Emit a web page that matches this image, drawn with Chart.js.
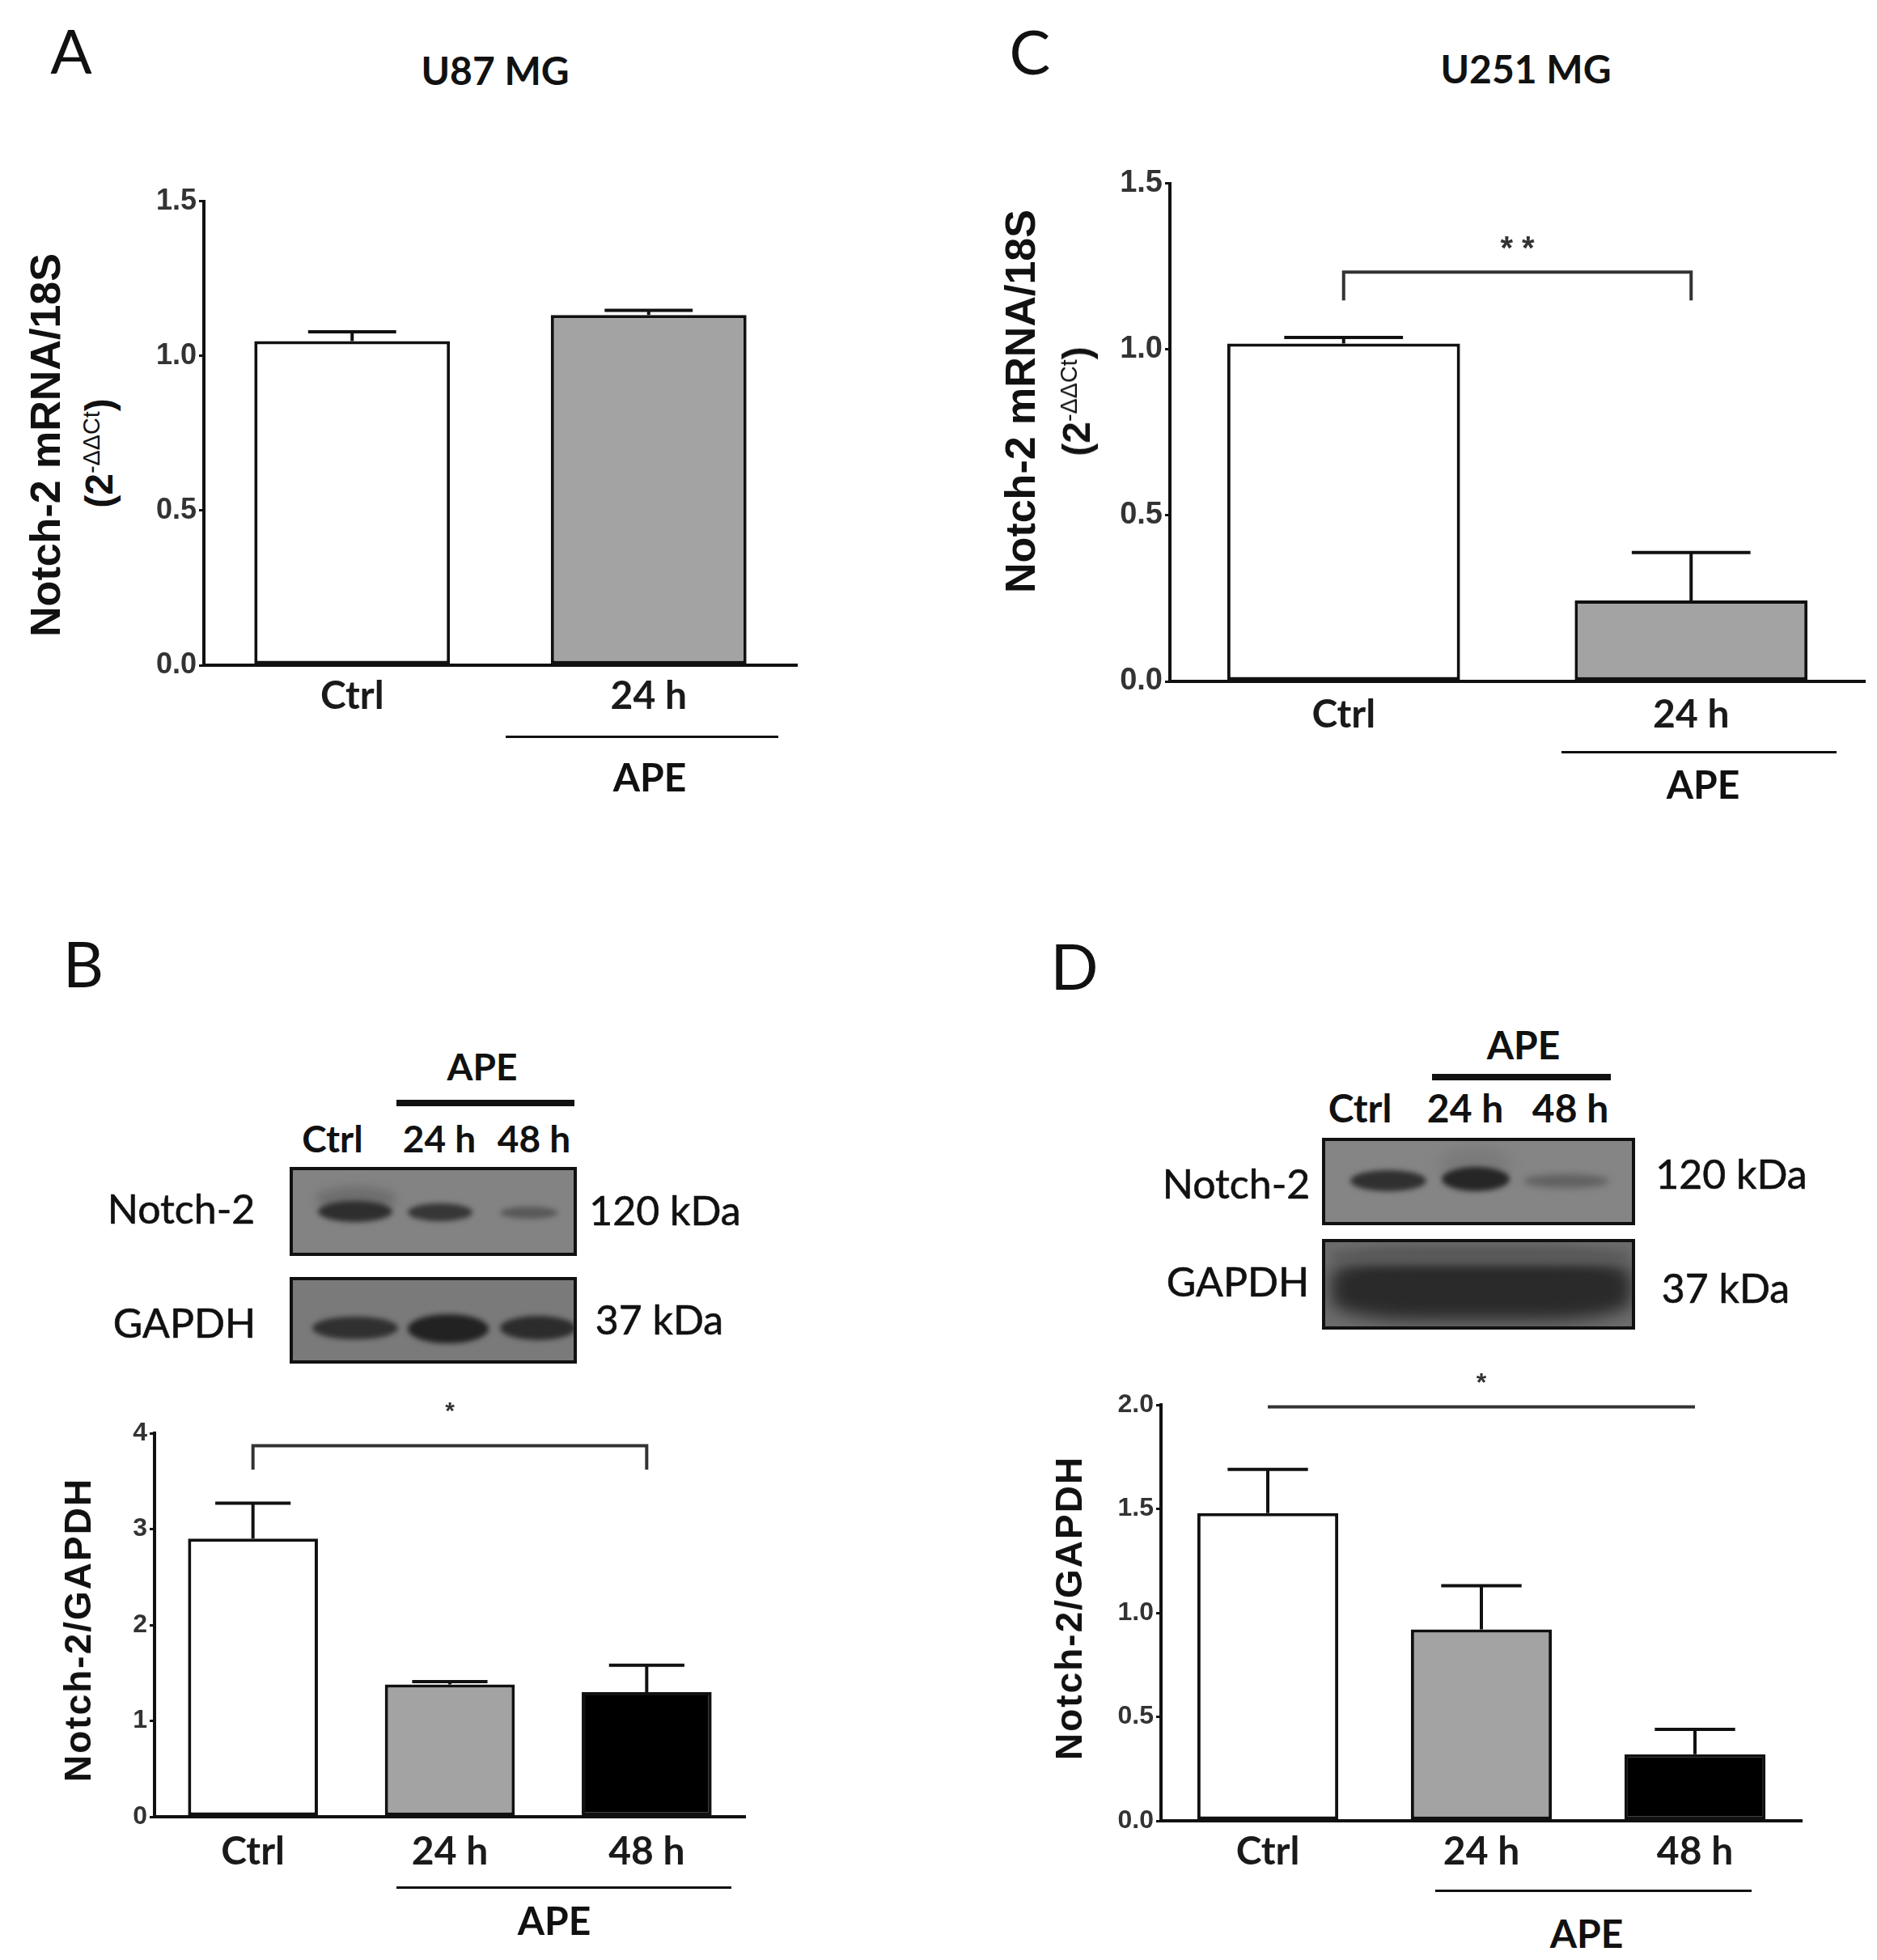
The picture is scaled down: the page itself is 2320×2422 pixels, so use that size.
<!DOCTYPE html>
<html><head><meta charset="utf-8">
<script src="https://cdn.jsdelivr.net/npm/chart.js@4"></script>
<style>
body{margin:0;background:#fff;}
#root{position:relative;width:2320px;height:2422px;overflow:hidden;background:#fff;font-family:Lato,'Open Sans',sans-serif;color:#111;}
.t{position:absolute;transform:translate(-50%,-50%);white-space:nowrap;line-height:1;}
.r{position:absolute;transform:translate(-50%,-50%) rotate(-90deg);white-space:nowrap;line-height:1;font-family:'Liberation Sans',Arial,sans-serif;font-weight:700;color:#111;}
.r sup{font-weight:400;font-size:0.6em;vertical-align:0.55em;}
.ln{position:absolute;background:#111;}
canvas{position:absolute;}
.blot{position:absolute;box-sizing:border-box;border:4px solid #111;overflow:hidden;}
.band{position:absolute;border-radius:50%;}
</style></head>
<body><div id="root"></div>
<script>
// ---------- data ----------
const catsA = ['Ctrl', '24 h'];
const valsA = [1.048, 1.132];
const errA  = [0.030, 0.015];
const ticksA = [0, 0.5, 1.0, 1.5];

const catsC = ['Ctrl', '24 h'];
const valsC = [1.018, 0.244];
const errC  = [0.018, 0.144];
const ticksC = [0, 0.5, 1.0, 1.5];

const catsB = ['Ctrl', '24 h', '48 h'];
const valsB = [2.90, 1.38, 1.30];
const errB  = [0.37, 0.03, 0.28];
const ticksB = [0, 1, 2, 3, 4];

const catsD = ['Ctrl', '24 h', '48 h'];
const valsD = [1.48, 0.92, 0.32];
const errD  = [0.21, 0.21, 0.12];
const ticksD = [0, 0.5, 1.0, 1.5, 2.0];

const fills2 = ['#ffffff', '#a3a3a3'];
const fills3 = ['#ffffff', '#a3a3a3', '#000000'];

// ---------- plugins ----------
const errPlugin = {
  id: 'errbars',
  afterDatasetsDraw(chart, args, o) {
    if (!o || !o.errs) return;
    const meta = chart.getDatasetMeta(0), y = chart.scales.y, ctx = chart.ctx;
    const data = chart.data.datasets[0].data;
    ctx.save();
    ctx.strokeStyle = '#111'; ctx.lineWidth = o.lw || 4; ctx.lineCap = 'butt';
    meta.data.forEach((bar, i) => {
      const top = y.getPixelForValue(data[i] + o.errs[i]);
      const w = bar.width * o.cap;
      ctx.beginPath();
      ctx.moveTo(bar.x, bar.y); ctx.lineTo(bar.x, top);
      ctx.moveTo(bar.x - w / 2, top); ctx.lineTo(bar.x + w / 2, top);
      ctx.stroke();
    });
    ctx.restore();
  }
};
const sigPlugin = {
  id: 'sig',
  afterDatasetsDraw(chart, args, o) {
    if (!o || o.from === undefined) return;
    const meta = chart.getDatasetMeta(0), y = chart.scales.y, ctx = chart.ctx;
    const x1 = meta.data[o.from].x, x2 = meta.data[o.to].x;
    const yl = y.getPixelForValue(o.y);
    ctx.save();
    ctx.strokeStyle = '#333'; ctx.lineWidth = 4;
    ctx.beginPath();
    if (o.leg !== undefined) {
      const yg = y.getPixelForValue(o.leg);
      ctx.moveTo(x1, yg); ctx.lineTo(x1, yl); ctx.lineTo(x2, yl); ctx.lineTo(x2, yg);
    } else {
      ctx.moveTo(x1, yl); ctx.lineTo(x2, yl);
    }
    ctx.stroke();
    ctx.fillStyle = '#333';
    ctx.font = 'bold ' + (o.size || 30) + 'px "Liberation Sans", Arial, sans-serif';
    ctx.textAlign = 'center'; ctx.textBaseline = 'middle';
    ctx.fillText(o.label, (x1 + x2) / 2 + (o.dx || 0), y.getPixelForValue(o.labelY));
    ctx.restore();
  }
};
Chart.register(errPlugin, sigPlugin);

const root = document.getElementById('root');

function makeChart(p) {
  const leftW = 90, rightP = 12, bottomH = 110;
  const cv = document.createElement('canvas');
  const W = p.R - p.L + leftW + rightP, H = p.B - p.T + p.padTop + bottomH;
  cv.width = W; cv.height = H;
  cv.style.left = (p.L - leftW) + 'px'; cv.style.top = (p.T - p.padTop) + 'px';
  cv.style.width = W + 'px'; cv.style.height = H + 'px';
  root.appendChild(cv);
  new Chart(cv, {
    type: 'bar',
    data: {
      labels: p.cats,
      datasets: [{
        data: p.vals, backgroundColor: p.fills, borderColor: '#111', borderWidth: 4,
        borderSkipped: false, barPercentage: p.bp, categoryPercentage: 1
      }]
    },
    options: {
      responsive: false, animation: false, devicePixelRatio: 1,
      layout: { padding: { top: p.padTop, right: rightP, left: 0, bottom: 0 } },
      plugins: {
        legend: { display: false }, tooltip: { enabled: false },
        errbars: { errs: p.errs, cap: p.cap, lw: 4 },
        sig: p.sig || {}
      },
      scales: {
        x: {
          type: 'category', offset: true,
          grid: { display: false, drawTicks: false },
          border: { display: true, color: '#111', width: 4 },
          ticks: { font: { family: 'Lato', weight: 'bold', size: 48 }, color: '#1a1a1a', padding: p.xpad, maxRotation: 0 },
          afterFit(s) { s.height = bottomH; }
        },
        y: {
          min: 0, max: p.ticks[p.ticks.length - 1],
          afterBuildTicks(s) { s.ticks = p.ticks.map(v => ({ value: v })); },
          grid: { display: true, drawOnChartArea: false, drawTicks: true, tickLength: 6, color: '#111', lineWidth: 3 },
          border: { display: true, color: '#111', width: 4 },
          ticks: {
            font: { family: "'Liberation Sans', Arial, sans-serif", weight: 'bold', size: p.tsize },
            color: '#333', padding: 3,
            callback: v => p.fmt(v)
          },
          afterFit(s) { s.width = leftW; }
        }
      }
    }
  });
}

const f1 = v => Number(v).toFixed(1);
const f0 = v => String(Math.round(v));

makeChart({ L: 252, R: 985, T: 244, B: 822, padTop: 20, cats: catsA, vals: valsA, errs: errA, fills: fills2,
  ticks: ticksA, fmt: f1, bp: 0.66, cap: 0.45, xpad: 10, tsize: 36 });
makeChart({ L: 1446, R: 2305, T: 221, B: 842, padTop: 20, cats: catsC, vals: valsC, errs: errC, fills: fills2,
  ticks: ticksC, fmt: f1, bp: 0.67, cap: 0.51, xpad: 13, tsize: 38,
  sig: { from: 0, to: 1, y: 1.233, leg: 1.148, label: '* *', labelY: 1.30, size: 40 } });
makeChart({ L: 191, R: 921, T: 1771, B: 2245, padTop: 60, cats: catsB, vals: valsB, errs: errB, fills: fills3,
  ticks: ticksB, fmt: f0, bp: 0.66, cap: 0.58, xpad: 15, tsize: 32,
  sig: { from: 0, to: 2, y: 3.87, leg: 3.62, label: '*', labelY: 4.22, size: 30 } });
makeChart({ L: 1435, R: 2227, T: 1736, B: 2250, padTop: 60, cats: catsD, vals: valsD, errs: errD, fills: fills3,
  ticks: ticksD, fmt: f1, bp: 0.66, cap: 0.57, xpad: 10, tsize: 32,
  sig: { from: 0, to: 2, y: 1.99, label: '*', labelY: 2.1, size: 32 } });

// ---------- text & decorations ----------
function txt(s, x, y, css) {
  const d = document.createElement('div'); d.className = 't'; d.innerHTML = s;
  d.style.left = x + 'px'; d.style.top = y + 'px'; d.style.cssText += css || '';
  root.appendChild(d); return d;
}
function rot(s, x, y, size, extra) {
  const d = document.createElement('div'); d.className = 'r'; d.innerHTML = s;
  d.style.left = x + 'px'; d.style.top = y + 'px'; d.style.fontSize = size + 'px';
  d.style.cssText += extra || '';
  root.appendChild(d); return d;
}
function line(x1, x2, y, h) {
  const d = document.createElement('div'); d.className = 'ln';
  d.style.left = x1 + 'px'; d.style.width = (x2 - x1) + 'px';
  d.style.top = (y - h / 2) + 'px'; d.style.height = h + 'px';
  root.appendChild(d);
}
function blot(x, y, w, h, bg, bands) {
  const b = document.createElement('div'); b.className = 'blot';
  b.style.left = x + 'px'; b.style.top = y + 'px'; b.style.width = w + 'px'; b.style.height = h + 'px';
  b.style.background = bg;
  bands.forEach(k => {
    const e = document.createElement('div'); e.className = 'band';
    e.style.left = k[0] + 'px'; e.style.top = k[1] + 'px'; e.style.width = k[2] + 'px'; e.style.height = k[3] + 'px';
    e.style.background = k[4]; e.style.filter = 'blur(' + (k[5] || 3) + 'px)';
    if (k[6]) e.style.borderRadius = k[6];
    b.appendChild(e);
  });
  root.appendChild(b);
}

// panel letters
txt('A', 88, 62, 'font-size:76px;font-weight:400;');
txt('C', 1273, 63, 'font-size:76px;font-weight:400;');
txt('B', 103, 1190, 'font-size:78px;font-weight:400;');
txt('D', 1328, 1193, 'font-size:78px;font-weight:400;');

// titles
txt('U87 MG', 612, 87, 'font-size:48px;font-weight:700;');
txt('U251 MG', 1886, 85, 'font-size:48px;font-weight:700;');

// y axis titles
rot('Notch-2 mRNA/18S', 56, 550, 52);
rot('(2<sup>-ΔΔCt</sup>)', 123, 560, 48);
rot('Notch-2 mRNA/18S', 1261, 496, 52);
rot('(2<sup>-ΔΔCt</sup>)', 1331, 496, 48);
rot('Notch-2/GAPDH', 96, 2014, 46, 'letter-spacing:2px;');
rot('Notch-2/GAPDH', 1321, 1987, 46, 'letter-spacing:2px;');

// APE group lines & labels under the charts
line(625, 962, 910, 3); txt('APE', 803, 960, 'font-size:48px;font-weight:700;');
line(1930, 2270, 929, 3); txt('APE', 2105, 969, 'font-size:48px;font-weight:700;');
line(490, 904, 2332, 3); txt('APE', 685, 2373, 'font-size:48px;font-weight:700;');
line(1774, 2165, 2336, 3); txt('APE', 1961, 2389, 'font-size:48px;font-weight:700;');

// Western blot panel B
txt('APE', 596, 1318, 'font-size:46px;font-weight:700;');
line(490, 710, 1363, 8);
txt('Ctrl', 411, 1407, 'font-size:46px;font-weight:700;');
txt('24 h', 543, 1407, 'font-size:46px;font-weight:700;');
txt('48 h', 660, 1407, 'font-size:46px;font-weight:700;');
blot(358, 1442, 355, 110, '#838383', [
  [28, 20, 100, 30, '#6e6e6e', 6],
  [31, 38, 92, 26, '#2e2e2e', 3],
  [142, 41, 80, 22, '#363636', 3],
  [256, 45, 72, 15, '#595959', 3]
]);
blot(358, 1578, 355, 107, '#7a7a7a', [
  [24, 45, 106, 28, '#303030', 3],
  [142, 42, 100, 36, '#222', 3],
  [256, 44, 94, 30, '#2c2c2c', 3]
]);
txt('Notch-2', 224, 1493, 'font-size:50px;font-weight:400;-webkit-text-stroke:0.6px #111;');
txt('120 kDa', 822, 1495, 'font-size:50px;font-weight:400;-webkit-text-stroke:0.6px #111;');
txt('GAPDH', 228, 1634, 'font-size:50px;font-weight:400;-webkit-text-stroke:0.6px #111;');
txt('37 kDa', 815, 1630, 'font-size:50px;font-weight:400;-webkit-text-stroke:0.6px #111;');

// Western blot panel D
txt('APE', 1883, 1291, 'font-size:48px;font-weight:700;');
line(1770, 1991, 1331, 8);
txt('Ctrl', 1681, 1369, 'font-size:48px;font-weight:700;');
txt('24 h', 1811, 1369, 'font-size:48px;font-weight:700;');
txt('48 h', 1941, 1369, 'font-size:48px;font-weight:700;');
blot(1634, 1406, 387, 108, '#858585', [
  [140, 8, 90, 40, '#7a7a7a', 8],
  [31, 36, 94, 26, '#303030', 3],
  [144, 32, 84, 30, '#262626', 3],
  [245, 41, 106, 17, '#616161', 4]
]);
blot(1634, 1531, 387, 112, '#6c6c6c', [
  [8, 18, 370, 78, '#2a2a2a', 10, '30%'],
  [10, 8, 365, 20, '#5a5a5a', 6, '30%']
]);
txt('Notch-2', 1528, 1462, 'font-size:50px;font-weight:400;-webkit-text-stroke:0.6px #111;');
txt('120 kDa', 2140, 1450, 'font-size:50px;font-weight:400;-webkit-text-stroke:0.6px #111;');
txt('GAPDH', 1530, 1583, 'font-size:50px;font-weight:400;-webkit-text-stroke:0.6px #111;');
txt('37 kDa', 2133, 1591, 'font-size:50px;font-weight:400;-webkit-text-stroke:0.6px #111;');
</script>
</body></html>
